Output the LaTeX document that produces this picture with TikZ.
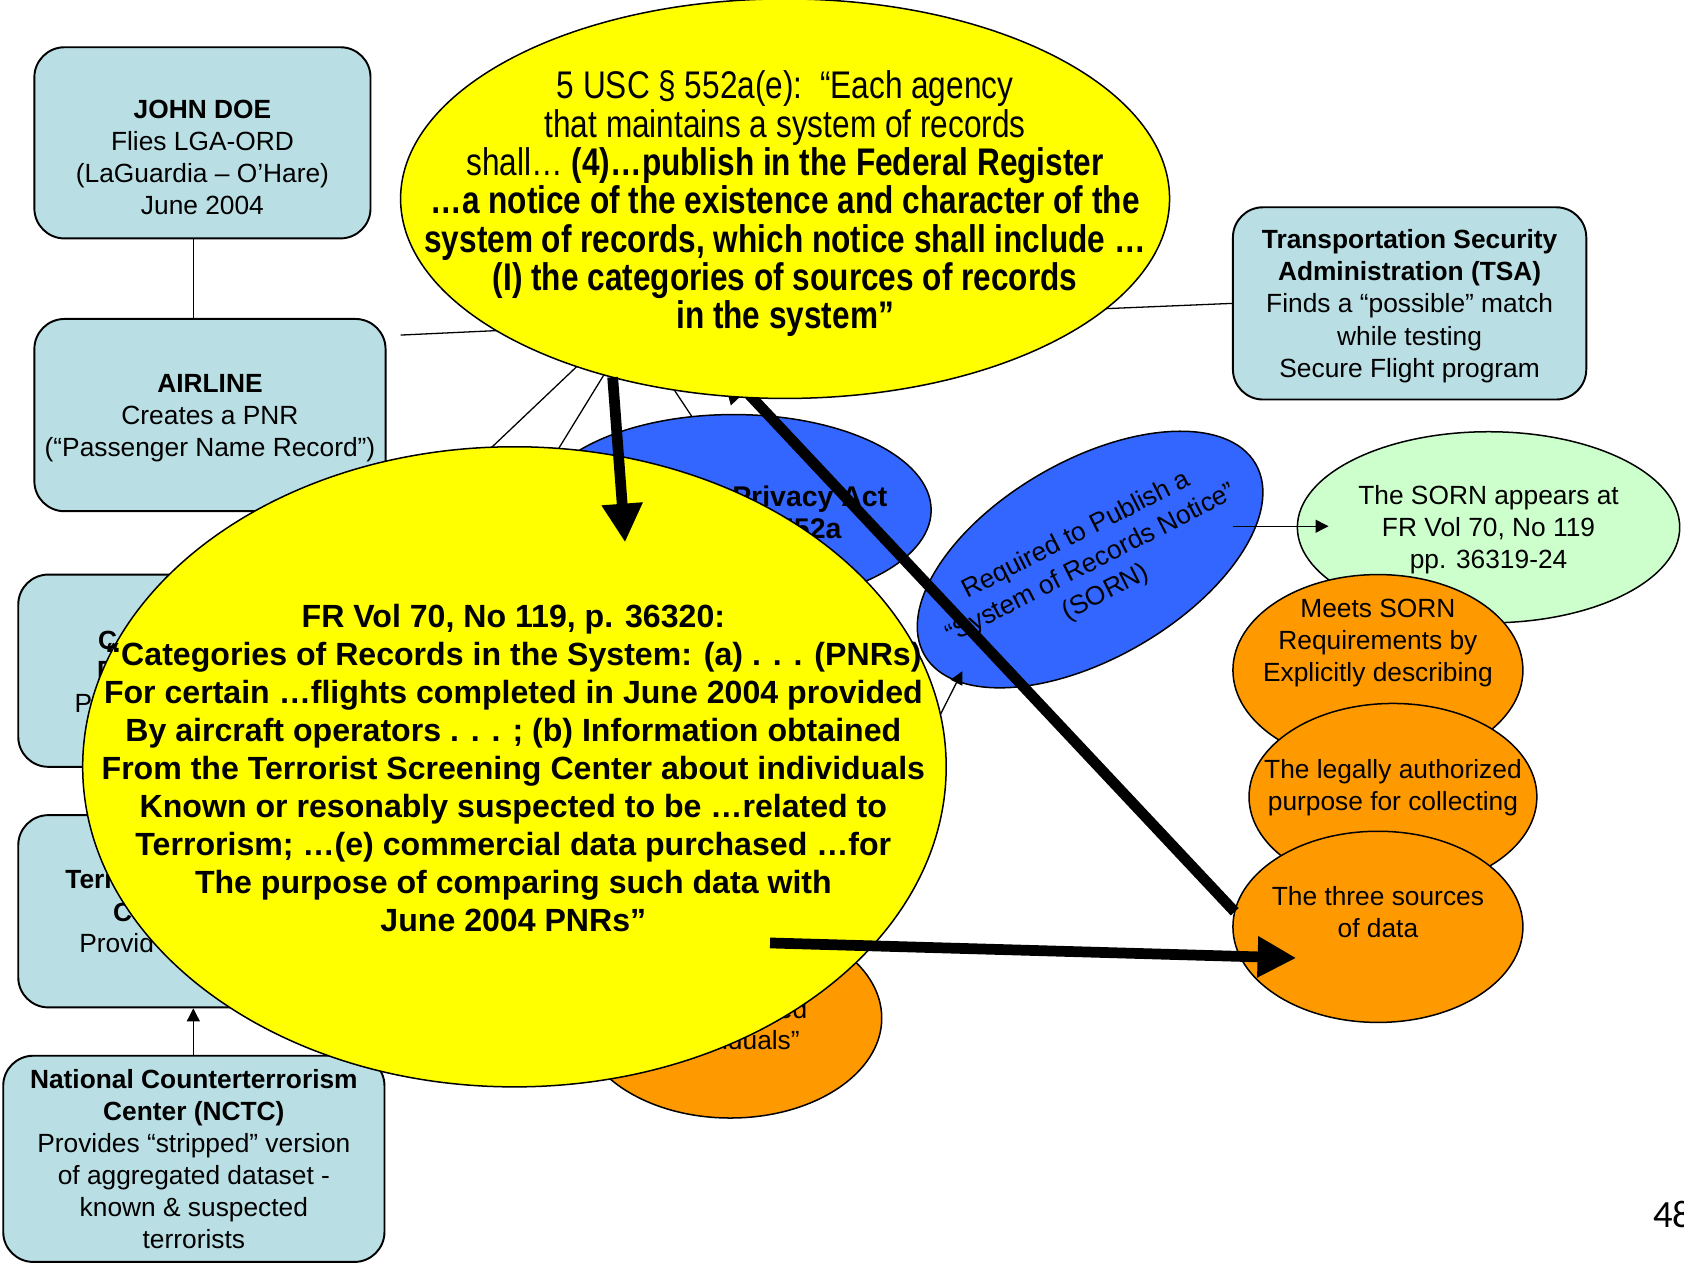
\documentclass[tikz,border=0pt]{standalone}
\usepackage{fontspec}
\setmainfont{Liberation Sans}
\newfontfamily\narrowfont[FakeStretch=0.82]{Liberation Sans}
\newfontfamily\pagenumfont{Carlito}
\usetikzlibrary{arrows.meta, shapes.geometric}
\definecolor{boxfill}{RGB}{185, 222, 227}
\definecolor{notice}{RGB}{255, 255, 0}
\definecolor{actblue}{RGB}{51, 102, 255}
\definecolor{sorngreen}{RGB}{204, 255, 204}
\definecolor{dataorange}{RGB}{255, 153, 0}

\begin{document}
\begin{tikzpicture}[x=0.5bp, y=-0.5bp,
    agencybox/.style={draw, line width=0.9bp, fill=boxfill, rounded corners=14bp, align=center, inner sep=0pt, text depth=0pt, font=\fontsize{12.3}{15}\selectfont},
    bubble/.style={draw, line width=0.7bp, ellipse, inner sep=0pt, outer sep=0pt},
    bubbletext/.style={align=center, inner sep=0pt, text depth=0pt, font=\fontsize{12.3}{15}\selectfont},
    fragment/.style={inner sep=0pt, font=\fontsize{12.3}{15}\selectfont},
    fragbold/.style={inner sep=0pt, font=\fontsize{12.3}{15}\selectfont\bfseries},
    thinline/.style={line width=0.6bp},
    smallarrow/.style={line width=0.6bp, -{Triangle[length=6bp, width=6bp]}},
    bigarrow/.style={line width=5bp, -{Triangle[length=18bp, width=18bp]}}]
    \useasboundingbox (0,0) rectangle (1568,1177);
    \clip (0,0) rectangle (1568,1177);

    \node[agencybox, minimum width=156.5bp, minimum height=89bp, text height=67bp] (johndoe) at (188.5,133)
        {\textbf{JOHN DOE}\\Flies LGA-ORD\\(LaGuardia – O’Hare)\\June 2004};
    \node[agencybox, minimum width=163.5bp, minimum height=89.5bp] (airline) at (195.5,386.5)
        {\textbf{AIRLINE}\\Creates a PNR\\(“Passenger Name Record”)};
    \node[agencybox, minimum width=164bp, minimum height=89.5bp] (cbox) at (181,624.5) {};
    \node[fragbold, anchor=west] (cboxa) at (91,596) {C};
    \node[fragbold, anchor=west] (cboxb) at (90,624) {D};
    \node[fragment, anchor=west] (cboxc) at (69,655) {P};
    \node[agencybox, minimum width=164bp, minimum height=89.5bp] (tsc) at (181,848.5) {};
    \node[fragbold, anchor=west] (tsca) at (60.5,819) {Terr};
    \node[fragbold, anchor=west] (tscb) at (105,850) {C};
    \node[fragment, anchor=west] (tscc) at (73.5,878) {Provid};
    \node[agencybox, minimum width=177.5bp, minimum height=96bp] (nctc) at (180.5,1079)
        {\textbf{National Counterterrorism}\\\textbf{Center (NCTC)}\\Provides “stripped” version\\of aggregated dataset -\\known \& suspected\\terrorists};
    \node[agencybox, minimum width=164.5bp, minimum height=89.5bp] (tsa) at (1312.5,282.5)
        {\textbf{Transportation Security}\\\textbf{Administration (TSA)}\\Finds a “possible” match\\while testing\\Secure Flight program};

    \coordinate (spine) at (180,0);
    \draw[thinline] (johndoe.south -| spine) -- (airline.north -| spine);
    \draw[smallarrow] (nctc.north -| spine) -- (tsc.south -| spine);

    \coordinate (airpt) at (373,312);
    \coordinate (airhub) at (609,301);
    \coordinate (tsahub) at (800,297);
    \coordinate (hub) at (609,273);
    \coordinate (cboxend) at (412,460);
    \coordinate (tscend) at (488,470);
    \coordinate (actfrom) at (580,291);
    \coordinate (actpt) at (702,475);
    \draw[thinline] (airpt) -- (airhub);
    \draw[thinline] (tsa.west) -- (tsahub);
    \draw[thinline] (hub) -- (cboxend);
    \draw[thinline] (hub) -- (tscend);
    \draw[thinline] (actfrom) -- (actpt);

    \node[bubble, fill=actblue, minimum width=184bp, minimum height=89bp] (privacy) at (683,475) {};
    \node[bubbletext, font=\fontsize{13.3}{15}\selectfont\bfseries] (privacytxt) at (754,477) {Privacy Act\\552a};

    \node[bubble, fill=actblue, minimum width=178bp, minimum height=92bp, rotate=30] (sorn) at (1015,521) {};
    \node[bubbletext, rotate=27] (sorntxt) at (1015,523) {Required to Publish a\\“System of Records Notice”\\(SORN)};

    \node[bubble, fill=sorngreen, minimum width=178bp, minimum height=89bp] (appears) at (1386,491) {};
    \node[bubbletext] (appearstxt) at (appears) {The SORN appears at\\FR Vol 70, No 119\\pp. 36319-24};

    \coordinate (sornexit) at (1148,490);
    \coordinate (greenpt) at (1237,490);
    \draw[smallarrow] (sornexit) -- (greenpt);

    \node[bubble, fill=dataorange, minimum width=135bp, minimum height=89bp] (meets) at (1283,624) {};
    \node[bubbletext] (meetstxt) at (1283,596) {Meets SORN\\Requirements by\\Explicitly describing};
    \node[bubble, fill=dataorange, minimum width=134bp, minimum height=87bp] (purpose) at (1297,742) {};
    \node[bubbletext] (purposetxt) at (1297,731) {The legally authorized\\purpose for collecting};
    \node[bubble, fill=dataorange, minimum width=135bp, minimum height=89bp] (three) at (1283,863) {};
    \node[bubbletext] (threetxt) at (1283,849) {The three sources\\of data};

    \node[bubble, fill=dataorange, minimum width=141bp, minimum height=93bp] (ind) at (680,948) {};
    \node[fragment, anchor=east] (inda) at (752,940) {ed};
    \node[fragment, anchor=east] (indb) at (745,968) {iduals”};

    \coordinate (sornpt) at (896,625);
    \draw[smallarrow] (ind.39) -- (sornpt);

    \node[bubble, fill=notice, minimum width=402bp, minimum height=298bp] (fr) at (479,714) {};
    \node[bubbletext, font=\fontsize{15}{17.8}\selectfont\bfseries] (frtxt) at (478,715)
        {FR Vol 70, No 119, p. 36320:\\
         “Categories of Records in the System: (a) . . . (PNRs)\\
         For certain …flights completed in June 2004 provided\\
         By aircraft operators . . . ; (b) Information obtained\\
         From the Terrorist Screening Center about individuals\\
         Known or resonably suspected to be …related to\\
         Terrorism; …(e) commercial data purchased …for\\
         The purpose of comparing such data with\\
         June 2004 PNRs”};

    \coordinate (srctip) at (670,338);
    \draw[bigarrow] (three.174) -- (srctip);

    \node[bubble, fill=notice, minimum width=358bp, minimum height=186bp] (usc) at (731,185) {};
    \node[bubbletext, font=\narrowfont\fontsize{18}{17.9}\selectfont] (usctxt) at (731,186)
        {5 USC § 552a(e):\ \ “Each agency\\
         that maintains a system of records\\
         shall… \textbf{(4)…publish in the Federal Register}\\
         \textbf{…a notice of the existence and character of the}\\
         \textbf{system of records, which notice shall include …}\\
         \textbf{(I) the categories of sources of records}\\
         \textbf{in the system”}};

    \coordinate (vtip) at (582,505);
    \coordinate (hstart) at (717,878);
    \coordinate (htip) at (1207,892);
    \draw[bigarrow] (usc.226) -- (vtip);
    \draw[bigarrow] (hstart) -- (htip);

    \node[anchor=base west, inner sep=0pt, font=\pagenumfont\fontsize{18}{18}\selectfont] (pagenum) at (1539,1143) {48};
\end{tikzpicture}
\end{document}
